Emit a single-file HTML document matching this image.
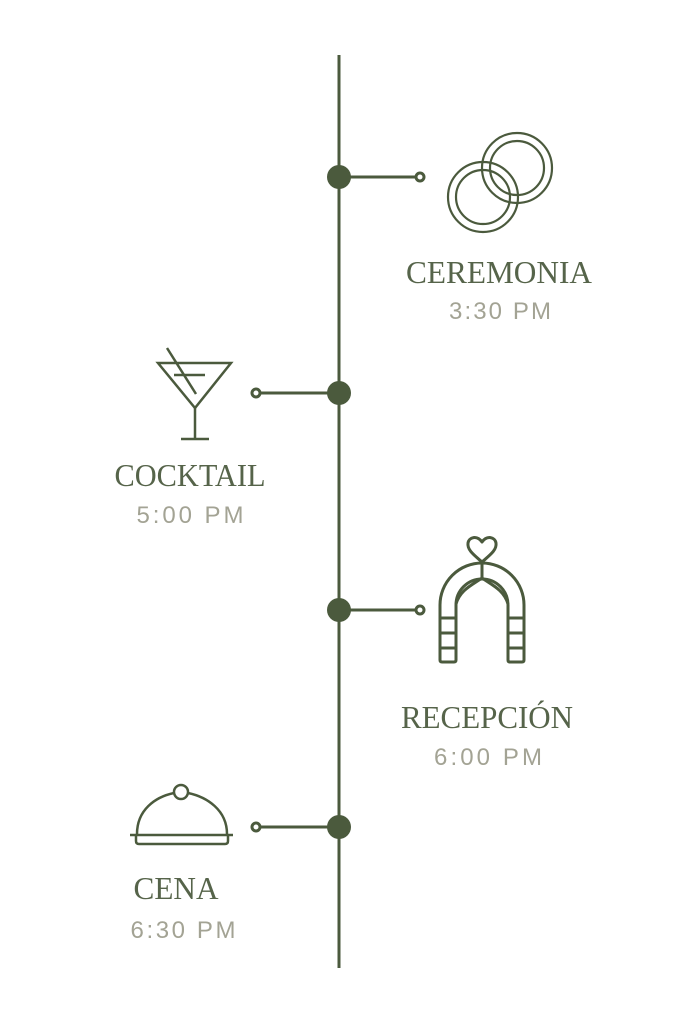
<!DOCTYPE html>
<html><head><meta charset="utf-8"><style>
html,body{margin:0;padding:0;background:#fff;}
svg{display:block;}
.t{font-family:"Liberation Serif",serif;fill:#56644a;font-size:32px;text-anchor:middle;}
.s{font-family:"Liberation Sans",sans-serif;fill:#a3a394;font-size:24px;text-anchor:middle;}
</style></head><body>
<svg width="683" height="1024" viewBox="0 0 683 1024" xmlns="http://www.w3.org/2000/svg">
<g stroke="#4b5a3d" fill="none" stroke-width="3">
<line x1="339" y1="55" x2="339" y2="968"/>
<line x1="339" y1="177" x2="416" y2="177"/><circle cx="420" cy="177" r="4"/>
<line x1="339" y1="610" x2="416" y2="610"/><circle cx="420" cy="610" r="4"/>
<line x1="260" y1="393" x2="339" y2="393"/><circle cx="256" cy="393" r="4"/>
<line x1="260" y1="827" x2="339" y2="827"/><circle cx="256" cy="827" r="4"/>
</g>
<g fill="#4b5a3d">
<circle cx="339" cy="177" r="12"/><circle cx="339" cy="393" r="12"/><circle cx="339" cy="610" r="12"/><circle cx="339" cy="827" r="12"/>
</g>
<g stroke="#4b5a3d" fill="none" stroke-width="2.2">
<circle cx="517" cy="168" r="35"/><circle cx="517" cy="168" r="27"/>
<circle cx="483" cy="197" r="35"/><circle cx="483" cy="197" r="27"/>
</g>
<g stroke="#4b5a3d" fill="none" stroke-width="2.5">
<polygon points="158,363 231,363 195,408"/>
<line x1="195" y1="408" x2="195" y2="439"/>
<line x1="181" y1="439" x2="209" y2="439"/>
<line x1="167" y1="348" x2="196" y2="394"/>
<line x1="174" y1="375" x2="205" y2="375"/>
</g>
<g stroke="#4b5a3d" fill="none" stroke-width="3" stroke-linejoin="round">
<path d="M440,660 L440,605 A42,42 0 0 1 524,605 L524,660 Q524,662 522,662 L510,662 Q508,662 508,660 L508,605 A26,26 0 0 0 482,579 A26,26 0 0 0 456,605 L456,660 Q456,662 454,662 L442,662 Q440,662 440,660 Z"/>
<path d="M456,604 C460,590 472,585 482,578 C492,585 504,590 508,604"/>
<line x1="440" y1="618" x2="456" y2="618"/><line x1="440" y1="633" x2="456" y2="633"/><line x1="440" y1="648" x2="456" y2="648"/>
<line x1="508" y1="618" x2="524" y2="618"/><line x1="508" y1="633" x2="524" y2="633"/><line x1="508" y1="648" x2="524" y2="648"/>
<line x1="482" y1="563" x2="482" y2="579"/>
<path d="M482,562 C474,555 467,550 468,543 C469,537 477,535 482,542 C487,535 495,537 496,543 C497,550 490,555 482,562 Z"/>
</g>
<g stroke="#4b5a3d" fill="none" stroke-width="2.5">
<path d="M137,834 C137,810 155,797 174,793"/>
<path d="M188,793 C207,797 227,810 227,834"/>
<circle cx="181" cy="792" r="7"/>
<line x1="130" y1="835" x2="233" y2="835"/>
<path d="M136,836 L136,841 Q136,844 139,844 L225,844 Q228,844 228,841 L228,836"/>
</g>
<text class="t" x="499" y="283" textLength="186" lengthAdjust="spacingAndGlyphs">CEREMONIA</text>
<text class="s" x="500" y="319" textLength="102" lengthAdjust="spacing">3:30 PM</text>
<text class="t" x="190" y="486" textLength="151" lengthAdjust="spacingAndGlyphs">COCKTAIL</text>
<text class="s" x="190" y="523" textLength="107" lengthAdjust="spacing">5:00 PM</text>
<text class="t" x="487" y="728" textLength="172" lengthAdjust="spacingAndGlyphs">RECEPCIÓN</text>
<text class="s" x="488" y="765" textLength="108" lengthAdjust="spacing">6:00 PM</text>
<text class="t" x="176" y="899" textLength="85" lengthAdjust="spacingAndGlyphs">CENA</text>
<text class="s" x="183" y="938" textLength="105" lengthAdjust="spacing">6:30 PM</text>
</svg>
</body></html>
